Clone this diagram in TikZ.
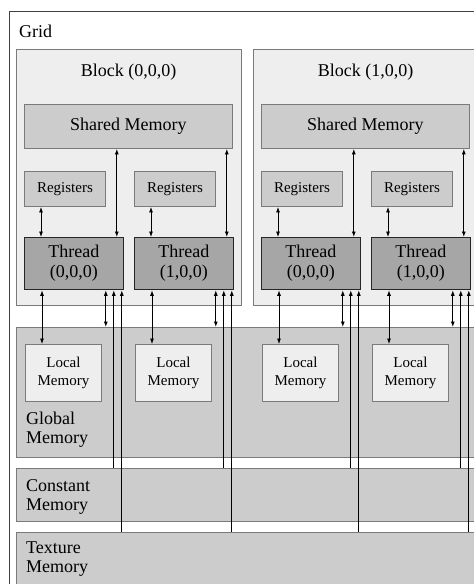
\documentclass[tikz,border=0pt]{standalone}
\usepackage{fontspec}
\setmainfont{Liberation Serif}
\usetikzlibrary{arrows.meta}

\definecolor{blockfill}{HTML}{EEEEEE}
\definecolor{memfill}{HTML}{CCCCCC}
\definecolor{threadfill}{HTML}{A6A6A6}
\definecolor{edgegray}{HTML}{7A7A7A}

\tikzset{
  big/.style={font=\fontsize{18}{19}\selectfont},
  small/.style={font=\fontsize{15}{17.5}\selectfont},
  box/.style={draw=edgegray, line width=0.9pt, inner sep=0pt, anchor=north west},
  blockbox/.style={box, fill=blockfill},
  membox/.style={box, fill=memfill},
  threadbox/.style={box, fill=threadfill, draw=black!85, line width=1.3pt,
    align=center, font=\fontsize{18}{20}\selectfont},
  localbox/.style={box, fill=blockfill, small, align=center},
  memlabel/.style={big, align=left, anchor=north west, inner sep=0pt},
  link/.style={line width=0.8pt, >={Latex[length=5.5pt,width=4pt]}}
}

\begin{document}
\begin{tikzpicture}[x=1pt,y=-1pt]
\useasboundingbox (0,0) rectangle (474,584);
\clip (0,0) rectangle (474,584);
% grid
\node[box, draw=black!75, line width=1.2pt, minimum width=700, minimum height=700] (grid) at (9,11) {};
\node[big, anchor=base west, inner sep=0pt] (gridlbl) at (19,37) {Grid};
% blocks
\foreach \b/\ox in {0/0,1/237}{
  \node[blockbox, minimum width=225, minimum height=256] (block\b) at (16+\ox,49) {};
  \node[big, anchor=base, inner sep=0pt] (blocklbl\b) at (128.5+\ox,76) {Block (\b,0,0)};
  \node[membox, big, minimum width=208, minimum height=44] (shared\b) at (24+\ox,104) {Shared Memory};
  \foreach \t/\tx in {0/0,1/110}{
    \node[membox, small, minimum width=81, minimum height=35] (reg\b\t) at (24+\ox+\tx,171) {Registers};
    \node[threadbox, minimum width=98.5, minimum height=52] (th\b\t) at (24+\ox+\tx,237) {Thread\\(\t,0,0)};
  }
}
% memory spaces
\node[membox, minimum width=700, minimum height=130] (glob) at (16,327) {};
\node[membox, minimum width=700, minimum height=53] (const) at (16,468) {};
\node[membox, minimum width=700, minimum height=80] (tex) at (16,532) {};
\node[memlabel] (globlbl) at (26,412) {Global\\Memory};
\node[memlabel] (constlbl) at (26,479) {Constant\\Memory};
\node[memlabel] (texlbl) at (26,542) {Texture\\Memory};
\foreach \b/\ox in {0/0,1/237}{
  \foreach \t/\tx in {0/0,1/110}{
    \node[localbox, minimum width=76, minimum height=57] (local\b\t) at (25+\ox+\tx,344) {Local\\Memory};
  }
}
% connectors
\foreach \b in {0,1}{
  \foreach \t in {0,1}{
    \draw[link,<->] ([xshift=17pt]reg\b\t.south west) -- ([xshift=17pt]reg\b\t.south west |- th\b\t.north);
    \draw[link,<->] ([xshift=-7pt]th\b\t.north east) -- ([xshift=-7pt]th\b\t.north east |- shared\b.south);
    \draw[link,<->] ([xshift=18pt]th\b\t.south west) -- ([xshift=18pt]th\b\t.south west |- local\b\t.north);
    \draw[link,<->] ([xshift=-18pt]th\b\t.south east) -- ([xshift=-18pt]th\b\t.south east |- glob.north);
    \draw[link,<-] ([xshift=-10pt]th\b\t.south east) -- ([xshift=-10pt]th\b\t.south east |- const.north);
    \draw[link,<-] ([xshift=-2pt]th\b\t.south east) -- ([xshift=-2pt]th\b\t.south east |- tex.north);
  }
}
\end{tikzpicture}
\end{document}
